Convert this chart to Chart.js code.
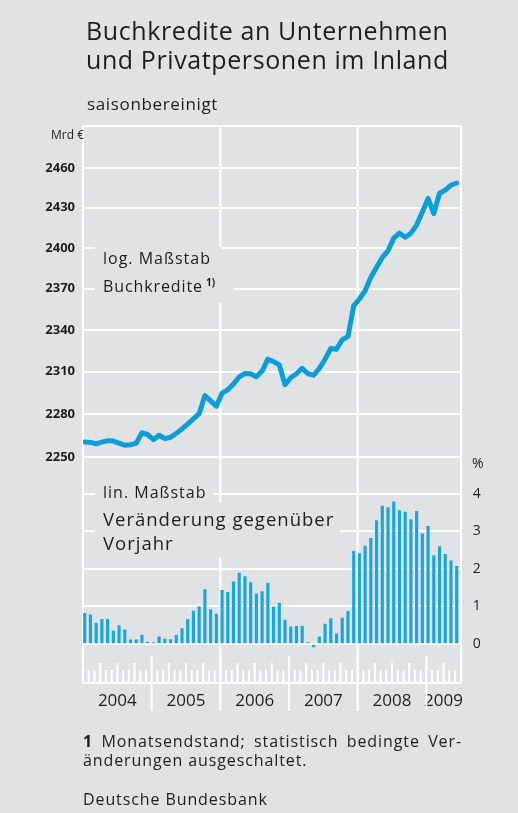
<!DOCTYPE html>
<html>
<head>
<meta charset="utf-8">
<script src="https://cdn.jsdelivr.net/npm/chart.js@4/dist/chart.umd.min.js"></script>
<style>
    body { margin: 0; background: #e1e2e4; }
    #page { position: relative; width: 518px; height: 813px; overflow: hidden; background: #e1e2e4;
            font-family: "Open Sans", "Noto Sans", sans-serif; color: #1e1e1e; }
    #page canvas { position: absolute; left: 0; top: 0; }
    .txt { position: absolute; white-space: nowrap; }
    .mask { position: absolute; background: #e1e2e4; }
</style>
</head>
<body>
<div id="page">
    <canvas id="chart" width="518" height="813"></canvas>
    <div class="txt" style="left:86px; top:16px; font-size:25px; line-height:29px; letter-spacing:0.6px;">Buchkredite an Unternehmen<br>und Privatpersonen im Inland</div>
    <div class="txt" style="left:87px; top:92px; font-size:17px; letter-spacing:0.65px;">saisonbereinigt</div>
    <div class="txt" style="left:51px; top:126px; font-size:12px;">Mrd €</div>
    <div class="txt" style="left:472px; top:453px; font-size:14px;">%</div>

    <div class="mask" style="left:95px; top:247px; width:127px; height:22px;"></div>
    <div class="mask" style="left:95px; top:269px; width:139px; height:34px;"></div>
    <div class="txt" style="left:103px; top:247px; font-size:16px; letter-spacing:1px;">log. Maßstab</div>
    <div class="txt" style="left:103px; top:275px; font-size:16px; letter-spacing:0.9px;">Buchkredite<sup style="font-size:10px; font-weight:bold; margin-left:3px; letter-spacing:0;">1)</sup></div>

    <div class="mask" style="left:95px; top:483px; width:118px; height:20px;"></div>
    <div class="mask" style="left:95px; top:503px; width:245px; height:54px;"></div>
    <div class="txt" style="left:103px; top:481px; font-size:16px; letter-spacing:1px;">lin. Maßstab</div>
    <div class="txt" style="left:103px; top:507px; font-size:18.5px; line-height:24px; letter-spacing:1px;">Veränderung gegenüber<br>Vorjahr</div>

    <div style="position:absolute; left:83px; top:730px; width:379px; font-size:16px; letter-spacing:0.9px; text-align:justify; text-align-last:justify;"><b>1</b> Monatsendstand; statistisch bedingte Ver-</div>
    <div class="txt" style="left:83px; top:749px; font-size:16px; letter-spacing:0.9px;">änderungen ausgeschaltet.</div>
    <div class="txt" style="left:83px; top:788px; font-size:16px; letter-spacing:0.9px;">Deutsche Bundesbank</div>
</div>
<script>
    // Buchkredite, Monatsendstand Jan 2004 - Jun 2009 (Mrd €)
    const credit = [
        2260.4, 2260.2, 2259.2, 2260.4, 2261.4, 2261.1, 2259.7, 2258.2, 2258.5, 2259.7, 2266.9, 2265.7,
        2262.1, 2265.2, 2262.8, 2263.8, 2266.5, 2269.6, 2273.0, 2276.6, 2280.3, 2293.1, 2289.4, 2285.6,
        2294.8, 2297.2, 2301.3, 2306.4, 2308.8, 2308.6, 2306.4, 2310.5, 2319.0, 2317.3, 2314.9, 2300.8,
        2305.7, 2308.6, 2312.4, 2308.6, 2307.6, 2312.4, 2319.0, 2326.7, 2326.2, 2333.0, 2335.2, 2357.5,
        2362.5, 2368.5, 2378.5, 2385.8, 2393.0, 2397.9, 2407.3, 2411.0, 2408.0, 2411.0, 2417.0, 2426.8,
        2437.0, 2425.6, 2440.9, 2443.3, 2446.9, 2448.6
    ];
    // Veränderung gegenüber Vorjahr (%)
    const growth = [
        0.82, 0.78, 0.56, 0.66, 0.66, 0.35, 0.49, 0.38, 0.11, 0.11, 0.24, 0.05,
        0.035, 0.19, 0.13, 0.12, 0.24, 0.41, 0.66, 0.88, 1.0, 1.45, 0.92, 0.80,
        1.43, 1.38, 1.66, 1.89, 1.80, 1.64, 1.34, 1.40, 1.62, 0.99, 1.09, 0.64,
        0.46, 0.47, 0.48, 0.04, -0.08, 0.19, 0.53, 0.68, 0.27, 0.69, 0.87, 2.47,
        2.41, 2.61, 2.82, 3.29, 3.68, 3.64, 3.79, 3.56, 3.52, 3.32, 3.54, 2.94,
        3.14, 2.36, 2.60, 2.39, 2.22, 2.07
    ];
    const years = ['2004', '2005', '2006', '2007', '2008', '2009'];
    const creditTicks = [2250, 2280, 2310, 2340, 2370, 2400, 2430, 2460];
    const growthTicks = [0, 1, 2, 3, 4];

    const BLUE = '#0a9ed8';
    const WHITE = '#ffffff';

    // month i is plotted a bit right of the month start
    const pos = (i) => i + 0.3;

    var frameLines = {
        id: 'frameLines',
        beforeDatasetsDraw: function (chart) {
            var ctx = chart.ctx, xs = chart.scales.x, a = chart.chartArea;
            ctx.save();
            ctx.strokeStyle = WHITE;
            ctx.lineWidth = 2;
            // vertical grid lines at 2006 and 2008
            [24, 48].forEach(function (m) {
                var x = xs.getPixelForValue(m);
                ctx.beginPath();
                ctx.moveTo(x, a.top);
                ctx.lineTo(x, a.bottom);
                ctx.stroke();
            });
            // month ticks at the bottom
            for (var m = 1; m < 66; m++) {
                var x = xs.getPixelForValue(m);
                var h = m % 12 === 0 ? 27 : (m % 3 === 0 ? 20 : 13);
                ctx.beginPath();
                ctx.moveTo(x, a.bottom);
                ctx.lineTo(x, a.bottom - h);
                if (m % 12 === 0) {
                    ctx.moveTo(x, a.bottom);
                    ctx.lineTo(x, a.bottom + 28);
                }
                ctx.stroke();
            }
            // top edge
            ctx.beginPath();
            ctx.moveTo(a.left, a.top);
            ctx.lineTo(a.right, a.top);
            ctx.stroke();
            ctx.restore();
        }
    };

    new Chart(document.getElementById('chart'), {
        data: {
            datasets: [{
                type: 'line',
                label: 'Buchkredite',
                data: credit.map(function (v, i) { return {x: pos(i), y: v}; }),
                yAxisID: 'yL',
                borderColor: BLUE,
                borderWidth: 5,
                pointRadius: 0,
                tension: 0,
                borderJoinStyle: 'round',
                borderCapStyle: 'round',
            }, {
                type: 'bar',
                label: 'Veränderung gegenüber Vorjahr',
                data: growth.map(function (v, i) { return {x: pos(i), y: v}; }),
                yAxisID: 'yR',
                backgroundColor: '#18a7dd',
                barThickness: 2.5,
            }]
        },
        options: {
            responsive: false,
            animation: false,
            devicePixelRatio: 1,
            layout: {padding: {left: 23, right: 17.3, top: 126, bottom: 90}},
            plugins: {legend: {display: false}, tooltip: {enabled: false}},
            scales: {
                x: {
                    type: 'linear',
                    offset: false,
                    min: 0,
                    max: 66,
                    afterBuildTicks: function (scale) {
                        scale.ticks = years.map(function (y, i) {
                            return {value: i === 5 ? 63 : i * 12 + 6};
                        });
                    },
                    afterFit: function (scale) { scale.height = 40; },
                    ticks: {
                        autoSkip: false,
                        maxRotation: 0,
                        padding: 0,
                        color: '#1e1e1e',
                        font: {family: 'Open Sans', size: 17},
                        callback: function (v, idx) { return years[idx]; }
                    },
                    grid: {display: false},
                    border: {display: true, color: WHITE, width: 2},
                },
                yL: {
                    type: 'logarithmic',
                    position: 'left',
                    bounds: 'data',
                    min: 2098.4,
                    max: 2492.1,
                    afterBuildTicks: function (scale) {
                        scale.ticks = creditTicks.map(function (v) { return {value: v}; });
                    },
                    afterFit: function (scale) { scale.width = 60; },
                    ticks: {
                        padding: 8,
                        color: '#1e1e1e',
                        font: {family: 'Open Sans', size: 13, weight: 'bold'},
                        callback: function (v) { return String(v); }
                    },
                    grid: {color: WHITE, lineWidth: 2, drawTicks: false},
                    border: {display: true, color: WHITE, width: 2},
                },
                yR: {
                    type: 'linear',
                    position: 'right',
                    bounds: 'data',
                    min: -1.04,
                    max: 13.81,
                    afterBuildTicks: function (scale) {
                        scale.ticks = growthTicks.map(function (v) { return {value: v}; });
                    },
                    afterFit: function (scale) { scale.width = 40; },
                    ticks: {
                        padding: 12,
                        color: '#1e1e1e',
                        font: {family: 'Open Sans', size: 14},
                        callback: function (v) { return String(v); }
                    },
                    grid: {color: WHITE, lineWidth: 2, drawTicks: false},
                    border: {display: true, color: WHITE, width: 2},
                }
            }
        },
        plugins: [frameLines]
    });
</script>
</body>
</html>
